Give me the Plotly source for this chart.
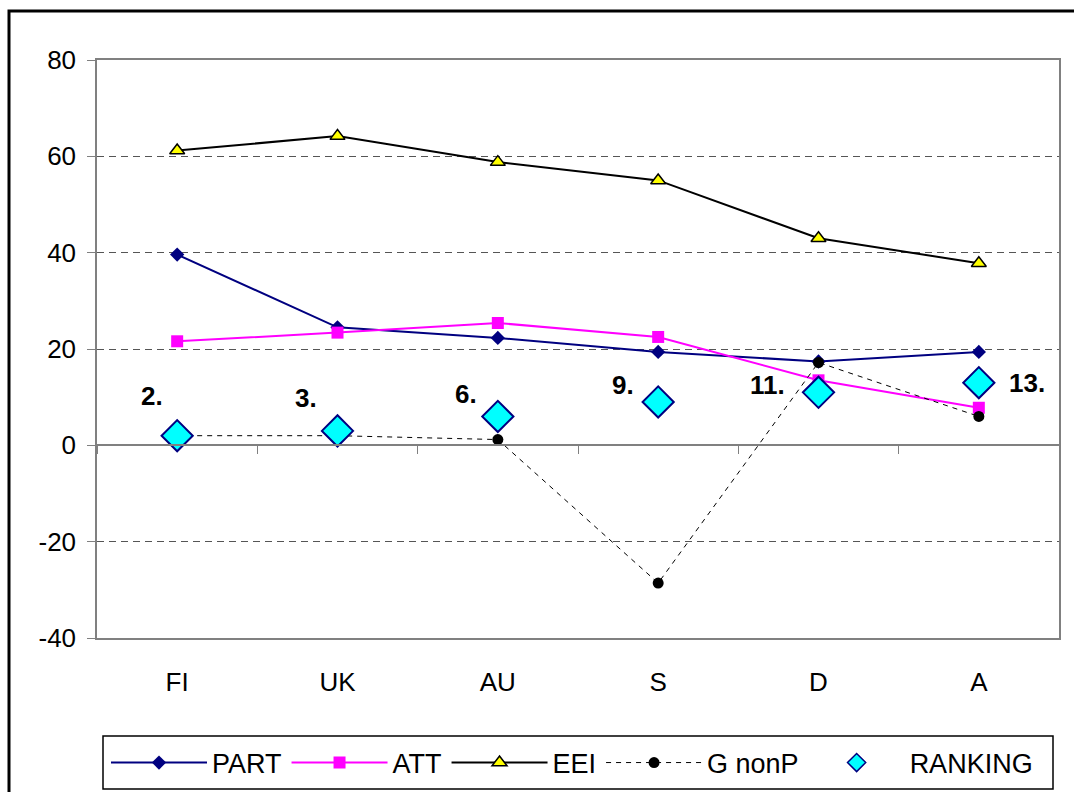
import plotly.graph_objects as go

# Country categories and series values
countries = ["FI", "UK", "AU", "S", "D", "A"]
part = [39.6, 24.5, 22.3, 19.4, 17.4, 19.4]
att = [21.6, 23.4, 25.4, 22.5, 13.5, 7.8]
eei = [61.2, 64.2, 58.8, 55.0, 43.0, 37.8]
g_nonp = [2.0, 2.0, 1.2, -28.6, 17.2, 6.0]
ranking = [2, 3, 6, 9, 11, 13]

y_ticks = [-40, -20, 0, 20, 40, 60, 80]
y_tick_text = [str(v) for v in y_ticks]

FONT = "Liberation Sans, Arial, sans-serif"

# Plot area geometry in pixels, used to place the frame and legend box
W, H = 1074, 792
L, R, T, B = 97, 15, 60, 154
PW, PH = W - L - R, H - T - B


def px_x(x):
    return (x - L) / PW


def px_y(y):
    return (H - B - y) / PH


fig = go.Figure()

fig.add_trace(go.Scatter(
    x=countries, y=part, name="PART", mode="lines+markers",
    line=dict(color="#000080", width=2),
    marker=dict(symbol="diamond", size=11, color="#000080"),
))
fig.add_trace(go.Scatter(
    x=countries, y=att, name="ATT", mode="lines+markers",
    line=dict(color="#FF00FF", width=2),
    marker=dict(symbol="square", size=12, color="#FF00FF"),
))
fig.add_trace(go.Scatter(
    x=countries, y=eei, name="EEI", mode="lines+markers",
    line=dict(color="#000000", width=2),
    marker=dict(symbol="triangle-up", size=13, color="#FFFF00",
                line=dict(color="#000000", width=1.5)),
))
fig.add_trace(go.Scatter(
    x=countries, y=g_nonp, name="G nonP", mode="lines+markers",
    line=dict(color="#000000", width=1, dash="5px,5px"),
    marker=dict(symbol="circle", size=11, color="#000000"),
))
# Ranking diamonds sit on the overlay axis so they are drawn on top
fig.add_trace(go.Scatter(
    x=countries, y=ranking, name="RANKING", mode="markers",
    xaxis="x2", legendgroup="rank", showlegend=False,
    marker=dict(symbol="diamond", size=24, color="#00FFFF",
                line=dict(color="#000080", width=2)),
))
# Smaller legend key for the ranking series
fig.add_trace(go.Scatter(
    x=[None], y=[None], name="RANKING", mode="markers",
    xaxis="x2", legendgroup="rank", showlegend=True,
    marker=dict(symbol="diamond", size=14, color="#00FFFF",
                line=dict(color="#000080", width=1.5)),
))

# Rank labels beside each diamond
label_shift = [(-25, 40), (-32, 33), (-32, 22), (-35, 17), (-51, 7), (48, 0)]
for c, r, (dx, dy) in zip(countries, ranking, label_shift):
    fig.add_annotation(
        x=c, y=r, xref="x2", yref="y", text=f"<b>{r}.</b>",
        showarrow=False, xshift=dx, yshift=dy,
        font=dict(family=FONT, size=26, color="#000000"),
    )

fig.update_layout(
    width=W, height=H,
    margin=dict(l=L, r=R, t=T, b=B),
    paper_bgcolor="#FFFFFF", plot_bgcolor="#FFFFFF",
    font=dict(family=FONT, size=26, color="#000000"),
    showlegend=True,
    legend=dict(
        orientation="h",
        xref="container", x=106 / W, xanchor="left",
        yref="container", y=1 - 763 / H, yanchor="middle",
        bgcolor="rgba(0,0,0,0)", borderwidth=0,
        font=dict(family=FONT, size=27),
        itemwidth=96, tracegroupgap=0,
    ),
    xaxis=dict(
        type="category", categoryarray=countries, range=[-0.5, 5.5],
        showgrid=False, showline=True, linecolor="#808080", linewidth=1.5,
        mirror=True, ticks="", ticklabelstandoff=20,
        tickfont=dict(family=FONT, size=26),
    ),
    xaxis2=dict(
        type="category", categoryarray=countries, range=[-0.5, 5.5],
        overlaying="x", anchor="free", position=1 / 3,
        showline=True, linecolor="#808080", linewidth=1.5,
        ticks="outside", tickson="boundaries", ticklen=8, tickcolor="#808080",
        showticklabels=False, showgrid=False,
    ),
    yaxis=dict(
        range=[-40, 80], tickvals=y_ticks, ticktext=y_tick_text, zeroline=False,
        showgrid=True, gridcolor="#555555", gridwidth=1, griddash="7px,5px",
        showline=True, linecolor="#808080", linewidth=1.5, mirror=True,
        ticks="outside", ticklen=8, tickcolor="#808080",
        tickfont=dict(family=FONT, size=26), ticklabelstandoff=6,
    ),
)

# Outer chart frame (left and top edges visible)
fig.add_shape(
    type="rect", xref="paper", yref="paper",
    x0=px_x(9), x1=px_x(1090), y0=px_y(810), y1=px_y(11),
    line=dict(color="#000000", width=3), fillcolor="rgba(0,0,0,0)",
    layer="below",
)
# Legend box
fig.add_shape(
    type="rect", xref="paper", yref="paper",
    x0=px_x(103), x1=px_x(1053), y0=px_y(789), y1=px_y(736),
    line=dict(color="#000000", width=1.5), fillcolor="rgba(0,0,0,0)",
    layer="above",
)

fig.write_html("out.html")
